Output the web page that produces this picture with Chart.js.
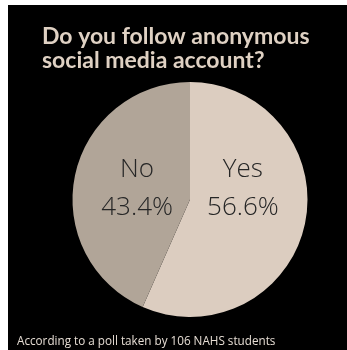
<!DOCTYPE html>
<html>
<head>
<meta charset="utf-8">
<script src="https://cdn.jsdelivr.net/npm/chart.js@4/dist/chart.umd.min.js"></script>
<style>
  html, body { margin: 0; padding: 0; background: #ffffff; width: 347px; height: 350px; overflow: hidden; }
  #frame { position: absolute; left: 8px; top: 5px; width: 339px; height: 345px; background: #000000; }
  canvas { display: block; }
</style>
</head>
<body>
<div id="frame"><canvas id="c" width="339" height="345"></canvas></div>
<script>
const titleLines = ["Do you follow anonymous", "social media account?"];
const footerText = "According to a poll taken by 106 NAHS students";
const categories = ["Yes", "No"];
const shares = [56.6, 43.4];
const sliceColors = ["#dccdc0", "#b1a598"];

const sliceLabels = {
  id: 'sliceLabels',
  afterDatasetsDraw(chart) {
    const ctx = chart.ctx;
    const meta = chart.getDatasetMeta(0);
    ctx.save();
    ctx.fillStyle = '#262626';
    ctx.textAlign = 'center';
    ctx.textBaseline = 'alphabetic';
    ctx.font = '300 26px "Open Sans"';
    meta.data.forEach((arc, i) => {
      const p = arc.getProps(['x', 'y', 'startAngle', 'endAngle', 'outerRadius'], true);
      const mid = (p.startAngle + p.endAngle) / 2;
      const x = p.x + Math.cos(mid) * p.outerRadius * 0.46;
      ctx.fillText(categories[i], x, p.y - p.outerRadius * 0.19);
      ctx.fillText(shares[i].toFixed(1) + '%', x, p.y + p.outerRadius * 0.13);
    });
    ctx.restore();
  }
};

const footerNote = {
  id: 'footerNote',
  afterDraw(chart) {
    const ctx = chart.ctx;
    ctx.save();
    ctx.fillStyle = '#e6ddd4';
    ctx.font = '11.7px "Open Sans"';
    ctx.textAlign = 'left';
    ctx.textBaseline = 'alphabetic';
    ctx.fillText(footerText, 9, chart.height - 5);
    ctx.restore();
  }
};

new Chart(document.getElementById('c'), {
  type: 'pie',
  data: {
    labels: categories,
    datasets: [{
      data: shares,
      backgroundColor: sliceColors,
      borderWidth: 0
    }]
  },
  options: {
    responsive: false,
    animation: false,
    layout: { padding: { left: 34, right: 9, top: 0, bottom: 33 } },
    plugins: {
      legend: { display: false },
      tooltip: { enabled: false },
      title: {
        display: true,
        text: titleLines,
        align: 'start',
        color: '#dfd1c3',
        font: { family: 'Lato', size: 23, weight: 'bold', lineHeight: '24px' },
        padding: { top: 20, bottom: 9 }
      }
    }
  },
  plugins: [sliceLabels, footerNote]
});
</script>
</body>
</html>
